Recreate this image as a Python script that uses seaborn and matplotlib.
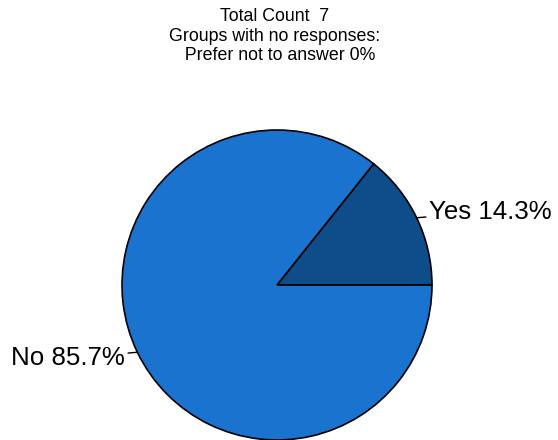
import numpy as np
import matplotlib
matplotlib.use("Agg")
import matplotlib.pyplot as plt
import seaborn as sns

# data
labels = ["Yes", "No"]
counts = [1, 6]
colors = ["#0f4d8a", "#1a73cf"]
title_lines = ["Total Count  7", "Groups with no responses:", "  Prefer not to answer 0%"]

sns.set_style("white")
plt.rcParams["font.family"] = ["Liberation Sans", "DejaVu Sans"]
plt.rcParams["text.color"] = "black"

fig = plt.figure(figsize=(5.58, 4.4), dpi=100)
# pie centred at (277, 285) px, radius ~155 px
r_px = 157
ax = fig.add_axes([(277 - r_px) / 558, (440 - 285 - r_px) / 440, 2 * r_px / 558, 2 * r_px / 440])

total = sum(counts)
wedges, _ = ax.pie(counts, colors=colors, startangle=0, counterclock=True,
                   wedgeprops=dict(edgecolor="black", linewidth=1.2))
ax.set_xlim(-1.013, 1.013)
ax.set_ylim(-1.013, 1.013)
ax.set_aspect("equal")
ax.axis("off")

for w, lab, c in zip(wedges, labels, counts):
    ang = np.deg2rad((w.theta1 + w.theta2) / 2)
    x, y = np.cos(ang), np.sin(ang)
    pct = 100 * c / total
    ha = "left" if x > 0 else "right"
    ax.annotate(f"{lab} {pct:.1f}%", xy=(x, y), xytext=(1.09 * x, 1.09 * y),
                ha=ha, va="center", fontsize=18.6, color="black",
                arrowprops=dict(arrowstyle="-", color="black", lw=1, shrinkA=0, shrinkB=0))

fig.text(275 / 558, 1 - 8 / 440, "\n".join(title_lines), ha="center", va="top",
         fontsize=12.8, linespacing=1.2, multialignment="center", color="black")

fig.savefig("out.png", dpi=100)
